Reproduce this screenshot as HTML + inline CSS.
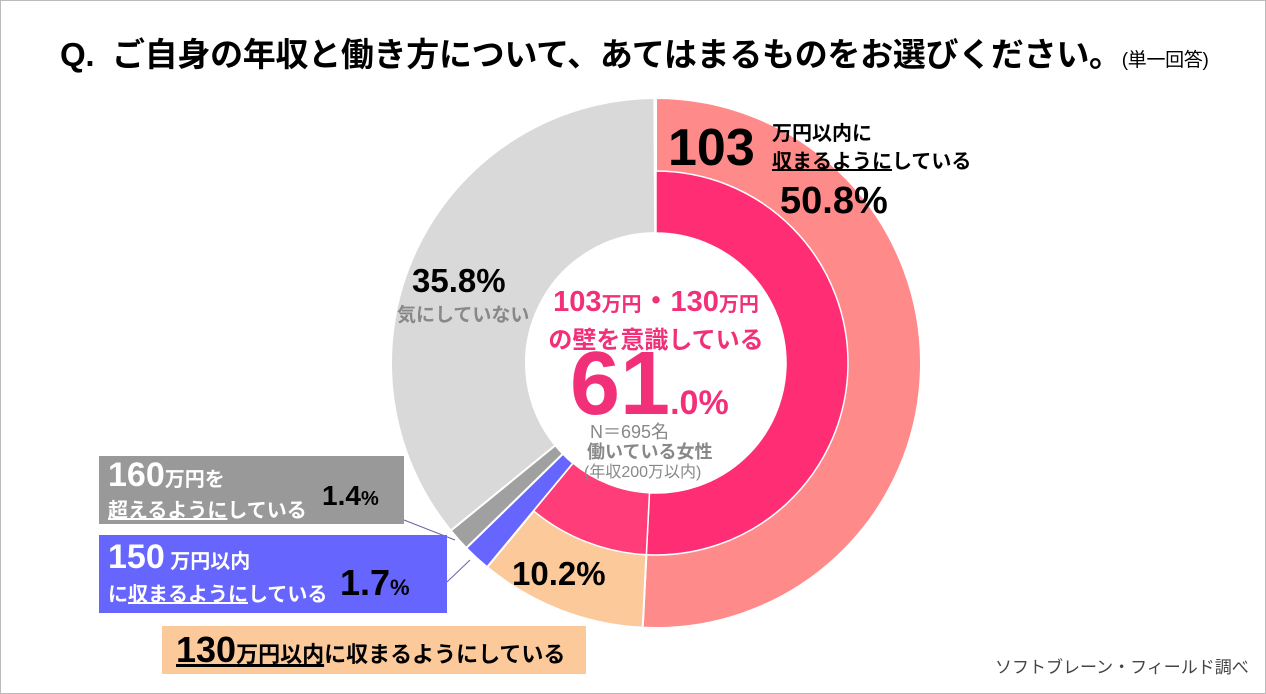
<!DOCTYPE html>
<html><head><meta charset="utf-8"><style>
body{margin:0;width:1266px;height:694px;background:#fff;overflow:hidden;font-family:"Liberation Sans","Noto Sans CJK JP",sans-serif;}
.frame{position:absolute;left:0;top:0;width:1264px;height:692px;border:1px solid #bbb;}
.t{position:absolute;white-space:nowrap;font-weight:bold;}
</style></head><body>
<div class="frame"></div>
<div class="t" style="left:60px;top:28px;font-size:33px;color:#000;letter-spacing:-0.3px;">Q.&nbsp;&nbsp;ご自身の年収と働き方について、あてはまるものをお選びください。<span style="font-size:19px;font-weight:normal">(単一回答)</span></div>
<svg id="chart" width="1266" height="694" style="position:absolute;left:0;top:0"></svg>

<div class="t" style="left:668px;top:118px;font-size:52px;line-height:60px;">103</div>
<div class="t" style="left:772px;top:120px;font-size:20px;line-height:28px;">万円以内に<br><u>収まるように</u>している</div>
<div class="t" style="left:780px;top:180px;font-size:38px;">50.8%</div>
<div class="t" style="left:412px;top:262px;font-size:33px;">35.8%</div>
<div class="t" style="left:397px;top:300px;font-size:19px;color:#888;">気にしていない</div>

<div class="t" style="left:540px;top:285px;width:232px;text-align:center;font-size:29px;line-height:34px;color:#f2307a;">103<span style="font-size:20px">万円</span>・130<span style="font-size:20px">万円</span><br><span style="font-size:24px">の壁を意識している</span></div>
<div class="t" style="left:570px;top:336px;font-size:90px;line-height:96px;color:#f2307a;">61<span style="font-size:34px">.0%</span></div>
<div class="t" style="left:590px;top:418px;font-size:18px;font-weight:normal;color:#888;">N＝695名</div>
<div class="t" style="left:587px;top:438px;font-size:18px;color:#888;">働いている女性</div>
<div class="t" style="left:584px;top:458px;font-size:16px;font-weight:normal;color:#888;">(年収200万以内)</div>
<div class="t" style="left:512px;top:555px;font-size:33px;">10.2%</div>

<div style="position:absolute;left:99px;top:456px;width:305px;height:68px;background:#999;"></div>
<div class="t" style="left:108px;top:456px;font-size:34px;color:#fff;line-height:38px;">160<span style="font-size:20px">万円を</span></div>
<div class="t" style="left:108px;top:494px;font-size:20px;color:#fff;"><u>超えるように</u>している</div>
<div class="t" style="left:322px;top:480px;font-size:28px;">1.4<span style="font-size:20px">%</span></div>

<div style="position:absolute;left:99px;top:535px;width:348px;height:78px;background:#6666ff;"></div>
<div class="t" style="left:108px;top:537px;font-size:34px;color:#fff;line-height:40px;">150<span style="font-size:20px"> 万円以内</span></div>
<div class="t" style="left:108px;top:578px;font-size:20px;color:#fff;">に<u>収まるように</u>している</div>
<div class="t" style="left:340px;top:562px;font-size:36px;">1.7<span style="font-size:22px">%</span></div>

<div style="position:absolute;left:162px;top:626px;width:424px;height:48px;background:#fcc99a;"></div>
<div class="t" style="left:176px;top:628px;font-size:36px;line-height:44px;"><u>130<span style="font-size:22px">万円以内</span></u><span style="font-size:22px">に収まるようにしている</span></div>
<div class="t" style="left:995px;top:653px;font-size:17px;font-weight:normal;color:#444;">ソフトブレーン・フィールド調べ</div>

<script>
const categories=["103万円以内","130万円以内","150万円以内","160万円超","気にしていない"];
const values=[50.8,10.2,1.7,1.4,35.8];
const colors=["#ff8a8a","#fcc99a","#6666ff","#a0a0a0","#d9d9d9"];
const innerValues=[50.8,10.2];
const cx=656,cy=363,R=265,Rm=192,r0=130;
const svg=document.getElementById('chart');
const NS="http://www.w3.org/2000/svg";
function ang(p){return p/100*2*Math.PI-Math.PI/2;}
function arc(a0,a1,ro,ri){
 const large=(a1-a0)>Math.PI?1:0;
 const p=(a,r)=>[cx+r*Math.cos(a),cy+r*Math.sin(a)];
 const [x1,y1]=p(a0,ro),[x2,y2]=p(a1,ro),[x3,y3]=p(a1,ri),[x4,y4]=p(a0,ri);
 return `M${x1},${y1}A${ro},${ro} 0 ${large} 1 ${x2},${y2}L${x3},${y3}A${ri},${ri} 0 ${large} 0 ${x4},${y4}Z`;
}
let acc=0;
values.forEach((v,i)=>{
 const el=document.createElementNS(NS,'path');
 el.setAttribute('d',arc(ang(acc),ang(acc+v),R,r0));
 el.setAttribute('fill',colors[i]);el.setAttribute('stroke','#fff');el.setAttribute('stroke-width','2');
 
 
 svg.appendChild(el);acc+=v;
});
acc=0;
innerValues.forEach((v,i)=>{
 const el=document.createElementNS(NS,'path');
 el.setAttribute('d',arc(ang(acc),ang(acc+v),Rm,r0));
 el.setAttribute('fill',i==0?'#ff2d74':'#ff3d78');el.setAttribute('stroke','#fff');el.setAttribute('stroke-width','1.5');
 
 
 svg.appendChild(el);acc+=v;
});
[[404,520,455,540],[447,582,470,560]].forEach(l=>{
 const el=document.createElementNS(NS,'line');
 el.setAttribute('x1',l[0]);el.setAttribute('y1',l[1]);el.setAttribute('x2',l[2]);el.setAttribute('y2',l[3]);
 el.setAttribute('stroke','#6666aa');el.setAttribute('stroke-width','1');
 
 
 svg.appendChild(el);
});
</script>
</body></html>
